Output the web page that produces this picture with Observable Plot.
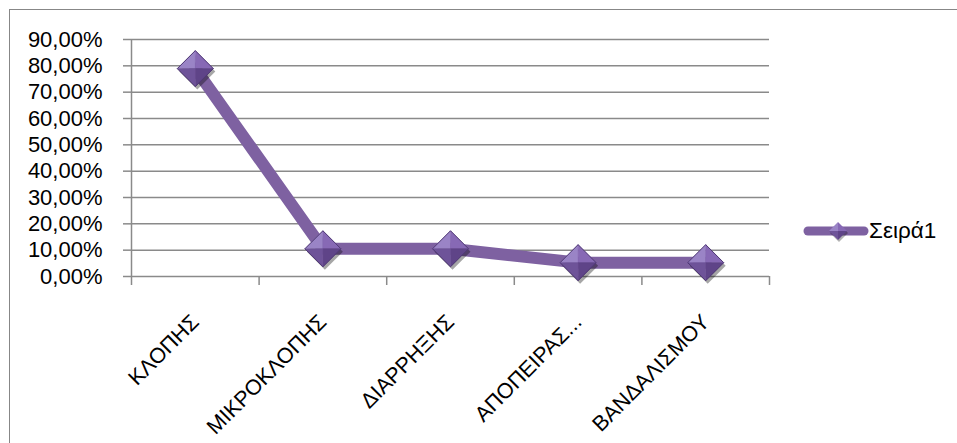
<!DOCTYPE html>
<html><head><meta charset="utf-8">
<script src="https://cdn.jsdelivr.net/npm/d3@7"></script>
<script src="https://cdn.jsdelivr.net/npm/@observablehq/plot@0.6"></script>
<style>
body{margin:0;background:#fff;}
#wrap{position:relative;width:957px;height:443px;overflow:hidden;background:#fff;font-family:"Liberation Sans",Arial,sans-serif;}
#chart svg{display:block;}
#border{position:absolute;left:9px;top:9px;right:-10px;bottom:-10px;border-top:1.5px solid #878787;border-left:1.5px solid #878787;pointer-events:none;}
#legend{position:absolute;left:803px;top:218px;display:flex;align-items:center;font-size:22.5px;color:#000;}
</style></head><body>
<div id="wrap"><div id="chart"></div><div id="border"></div><div id="legend"></div></div>
<script>
const categories = ["ΚΛΟΠΗΣ", "ΜΙΚΡΟΚΛΟΠΗΣ", "ΔΙΑΡΡΗΞΗΣ", "ΑΠΟΠΕΙΡΑΣ...", "ΒΑΝΔΑΛΙΣΜΟΥ"];
const values = [0.7895, 0.1053, 0.1053, 0.0526, 0.0526];
const yTicks = [0, 0.1, 0.2, 0.3, 0.4, 0.5, 0.6, 0.7, 0.8, 0.9];
const seriesName = "Σειρά1";

const rows = categories.map((c, i) => ({pos: i + 0.5, cat: c, v: values[i]}));
const bounds = d3.range(categories.length + 1);
const fmt = d => (d * 100).toFixed(2).replace(".", ",") + "%";

function poly(pts) {
  return {draw(ctx, size) {
    const r = Math.sqrt(size / Math.PI);
    ctx.moveTo(pts[0][0] * r, pts[0][1] * r);
    for (const [a, b] of pts.slice(1)) ctx.lineTo(a * r, b * r);
    ctx.closePath();
  }};
}
const FULL = poly([[0,-1],[1,0],[0,1],[-1,0]]);
const TL = poly([[0,0],[-1,0],[0,-1]]);
const TR = poly([[0,0],[0,-1],[1,0]]);
const BR = poly([[0,0],[1,0],[0,1]]);
const BL = poly([[0,0],[0,1],[-1,0]]);
const R = 18;
const font = {fontSize: 22, fontFamily: "Liberation Sans, Arial, sans-serif"};

const chart = Plot.plot({
  width: 957, height: 443,
  marginLeft: 131, marginRight: 188, marginTop: 39, marginBottom: 167,
  style: {background: "transparent", color: "#000", ...font},
  x: {type: "linear", domain: [0, categories.length], label: null},
  y: {domain: [0, 0.9], label: null},
  marks: [
    Plot.gridY(yTicks, {stroke: "#8a8a8a", strokeOpacity: 1, strokeWidth: 1.5}),
    Plot.ruleX([0], {y1: 0, y2: 0.9, stroke: "#8a8a8a", strokeWidth: 1.5}),
    Plot.axisY({ticks: yTicks, tickFormat: fmt, tickSize: 8, tickPadding: 21, label: null, stroke: "#8a8a8a", strokeWidth: 1.5, fill: "#000", ...font}),
    Plot.axisX({ticks: bounds, tickFormat: () => "", tickSize: 9, label: null, stroke: "#8a8a8a", strokeWidth: 1.5}),
    Plot.axisX({ticks: rows.map(d => d.pos), tickFormat: t => categories[Math.floor(t)], tickSize: 0, tickPadding: 42, tickRotate: -45, label: null, fill: "#000", fontSize: 21.5, fontFamily: font.fontFamily}),
    Plot.line(rows, {x: "pos", y: "v", stroke: "#7E61A1", strokeWidth: 12}),
    Plot.dot(rows, {x: "pos", y: "v", symbol: FULL, r: R, fill: "#000", fillOpacity: 0.35, stroke: "none", dx: 2, dy: 3, ariaLabel: "shadow"}),
    Plot.dot(rows, {x: "pos", y: "v", symbol: TL, r: R, fill: "#9A84C6", stroke: "#9A84C6", strokeWidth: 0.5}),
    Plot.dot(rows, {x: "pos", y: "v", symbol: TR, r: R, fill: "#8769B5", stroke: "#8769B5", strokeWidth: 0.5}),
    Plot.dot(rows, {x: "pos", y: "v", symbol: BR, r: R, fill: "#5F4488", stroke: "#5F4488", strokeWidth: 0.5}),
    Plot.dot(rows, {x: "pos", y: "v", symbol: BL, r: R, fill: "#6E5399", stroke: "#6E5399", strokeWidth: 0.5}),
    Plot.dot(rows, {x: "pos", y: "v", symbol: FULL, r: R, fill: "none", stroke: "#4E3873", strokeWidth: 1})
  ]
});
document.getElementById("chart").append(chart);
const sh = chart.querySelector('[aria-label="shadow"]');
if (sh) sh.style.filter = "blur(1.5px)";

document.getElementById("legend").innerHTML =
  `<svg width="66" height="26" style="display:block">
     <line x1="5" y1="13" x2="61" y2="13" stroke="#7E61A1" stroke-width="9" stroke-linecap="round"/>
     <polygon points="35,4 44,13 35,22 26,13" fill="#000" opacity="0.3" transform="translate(1,2)"/>
     <polygon points="35,13 26,13 35,4" fill="#9A84C6"/>
     <polygon points="35,13 35,4 44,13" fill="#8769B5"/>
     <polygon points="35,13 44,13 35,22" fill="#5F4488"/>
     <polygon points="35,13 35,22 26,13" fill="#6E5399"/>
   </svg><span>${seriesName}</span>`;
</script>
</body></html>
